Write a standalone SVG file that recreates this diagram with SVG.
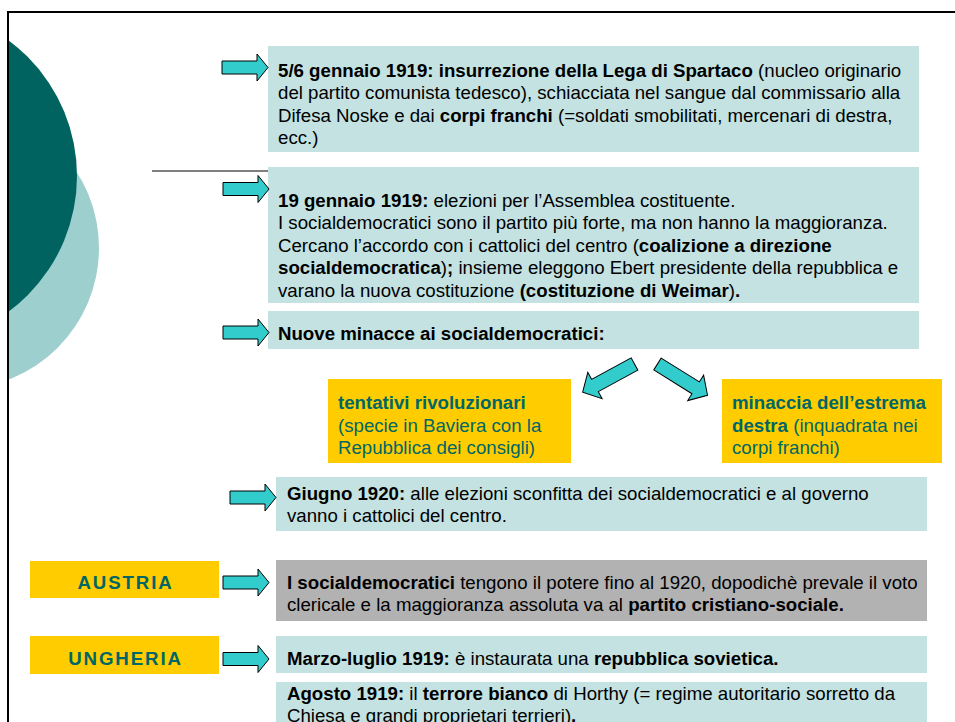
<svg xmlns="http://www.w3.org/2000/svg" xmlns:xlink="http://www.w3.org/1999/xlink" width="955" height="722" viewBox="0 0 955 722">
<style>
.t{font-family:"Liberation Sans",Arial,sans-serif;font-size:18.67px;fill:#000}
.b{font-weight:bold}
.y{fill:#006666}
.box{fill:#C3E2E1}
.gray{fill:#B2B2B2}
.yel{fill:#FFCC00}
.arr{fill:#33CCCC;stroke:#000;stroke-width:1;stroke-linejoin:miter}
.lab{font-family:"Liberation Sans",Arial,sans-serif;font-size:18.67px;font-weight:bold;fill:#006666;letter-spacing:1.9px}
</style>
<defs>
<clipPath id="frameClip"><rect x="9" y="13" width="946" height="709"/></clipPath>
<path id="ar" d="M0,-6.5 H35 V-13.5 L46,0 L35,13.5 V6.5 H0 Z"/>
<path id="ard" d="M0,-7 H45 V-15 L59,0 L45,15 V7 H0 Z"/>
</defs>
<rect width="955" height="722" fill="#fff"/>
<g id="background" clip-path="url(#frameClip)">
<circle cx="-42" cy="248" r="141" fill="#9DCFCF"/>
<circle cx="-91.5" cy="176" r="168.5" fill="#00635F"/>
</g>
<path d="M8,722 V12 H955" fill="none" stroke="#000" stroke-width="2"/>
<line x1="152" y1="171" x2="919" y2="171" stroke="#000" stroke-width="1"/>

<g id="node-spartaco">
<rect class="box" x="268" y="46" width="651" height="106"/>
<text class="t" x="278" y="77"><tspan class="b">5/6 gennaio 1919: insurrezione della Lega di Spartaco</tspan> (nucleo originario</text>
<text class="t" x="278" y="99.4">del partito comunista tedesco), schiacciata nel sangue dal commissario alla</text>
<text class="t" x="278" y="121.8">Difesa Noske e dai <tspan class="b">corpi franchi</tspan> (=soldati smobilitati, mercenari di destra,</text>
<text class="t" x="278" y="144.2">ecc.)</text>
</g>

<g id="node-elezioni">
<rect class="box" x="268" y="167" width="651" height="136"/>
<text class="t" x="278" y="207"><tspan class="b">19 gennaio 1919:</tspan> elezioni per l’Assemblea costituente.</text>
<text class="t" x="278" y="229.4">I socialdemocratici sono il partito più forte, ma non hanno la maggioranza.</text>
<text class="t" x="278" y="251.8">Cercano l’accordo con i cattolici del centro (<tspan class="b">coalizione a direzione</tspan></text>
<text class="t" x="278" y="274.2"><tspan class="b">socialdemocratica</tspan>)<tspan class="b">;</tspan> insieme eleggono Ebert presidente della repubblica e</text>
<text class="t" x="278" y="296.6">varano la nuova costituzione <tspan class="b">(costituzione di Weimar</tspan>)<tspan class="b">.</tspan></text>
</g>

<g id="node-minacce">
<rect class="box" x="268" y="311" width="651" height="38"/>
<text class="t b" x="278" y="339.5">Nuove minacce ai socialdemocratici:</text>
</g>

<g id="node-rivoluzionari">
<rect class="yel" x="328" y="379" width="243" height="84"/>
<text class="t y" x="338" y="409.3"><tspan class="b">tentativi rivoluzionari</tspan></text>
<text class="t y" x="338" y="431.7">(specie in Baviera con la</text>
<text class="t y" x="338" y="454.1">Repubblica dei consigli)</text>
</g>

<g id="node-destra">
<rect class="yel" x="722" y="379" width="220" height="84"/>
<text class="t y" x="732" y="409.3"><tspan class="b">minaccia dell’estrema</tspan></text>
<text class="t y" x="732" y="431.7"><tspan class="b">destra</tspan> (inquadrata nei</text>
<text class="t y" x="732" y="454.1">corpi franchi)</text>
</g>

<g id="node-giugno">
<rect class="box" x="276" y="477" width="651" height="54"/>
<text class="t" x="287" y="499.5"><tspan class="b">Giugno 1920:</tspan> alle elezioni sconfitta dei socialdemocratici e al governo</text>
<text class="t" x="287" y="521.9">vanno i cattolici del centro.</text>
</g>

<g id="node-austria-label">
<rect class="yel" x="30" y="561" width="189" height="37"/>
<text class="lab" x="125.5" y="589" text-anchor="middle">AUSTRIA</text>
</g>

<g id="node-austria">
<rect class="gray" x="276" y="560" width="651" height="61"/>
<text class="t" x="287" y="589"><tspan class="b">I socialdemocratici</tspan> tengono il potere fino al 1920, dopodichè prevale il voto</text>
<text class="t" x="287" y="611.4">clericale e la maggioranza assoluta va al <tspan class="b">partito cristiano-sociale.</tspan></text>
</g>

<g id="node-ungheria-label">
<rect class="yel" x="30" y="636" width="189" height="38"/>
<text class="lab" x="125.5" y="664.5" text-anchor="middle">UNGHERIA</text>
</g>

<g id="node-ungheria">
<rect class="box" x="276" y="636" width="651" height="37"/>
<text class="t" x="287" y="664.5"><tspan class="b">Marzo-luglio 1919:</tspan> è instaurata una <tspan class="b">repubblica sovietica.</tspan></text>
</g>

<g id="node-agosto">
<rect class="box" x="276" y="682" width="651" height="60"/>
<text class="t" x="287" y="699.5"><tspan class="b">Agosto 1919:</tspan> il <tspan class="b">terrore bianco</tspan> di Horthy (= regime autoritario sorretto da</text>
<text class="t" x="287" y="721.9">Chiesa e grandi proprietari terrieri)<tspan class="b">.</tspan></text>
</g>

<g id="connectors">
<use xlink:href="#ar" class="arr" transform="translate(222,67.5)"/>
<use xlink:href="#ar" class="arr" transform="translate(223,189)"/>
<use xlink:href="#ar" class="arr" transform="translate(223,332.5)"/>
<use xlink:href="#ard" class="arr" transform="translate(634.5,364) rotate(151.5)"/>
<use xlink:href="#ard" class="arr" transform="translate(657.5,364) rotate(32)"/>
<use xlink:href="#ar" class="arr" transform="translate(230,497.5)"/>
<use xlink:href="#ar" class="arr" transform="translate(223,582.5)"/>
<use xlink:href="#ar" class="arr" transform="translate(223,659)"/>
</g>
</svg>
